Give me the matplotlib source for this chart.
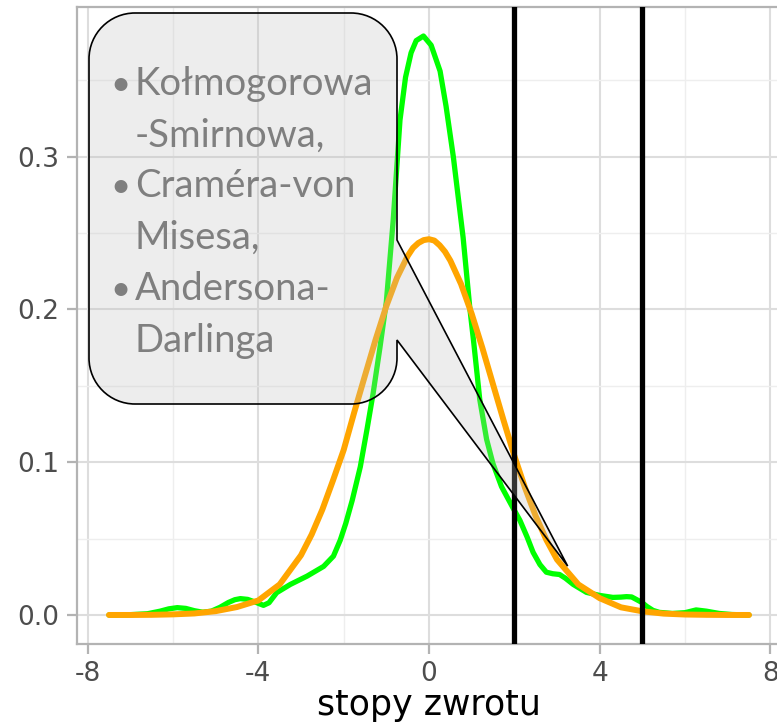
import matplotlib
matplotlib.use("Agg")
import matplotlib.pyplot as plt
from matplotlib.path import Path
from matplotlib.patches import PathPatch
from matplotlib.transforms import IdentityTransform

# ---------------- data ----------------
green_x = [-7.5, -7.0, -6.6, -6.3, -6.1, -5.9, -5.7, -5.5, -5.3, -5.1, -4.9, -4.7,
           -4.55, -4.42, -4.25, -4.05, -3.88, -3.75, -3.57, -3.25, -2.86, -2.47,
           -2.24, -2.08, -1.95, -1.8, -1.61, -1.45, -1.31, -1.15, -1.0, -0.84,
           -0.68, -0.55, -0.42, -0.3, -0.13, 0.05, 0.26, 0.4, 0.57, 0.8, 0.96,
           1.05, 1.19, 1.35, 1.5, 1.7, 1.97, 2.13, 2.3, 2.44, 2.6, 2.75, 2.9,
           3.06, 3.2, 3.38, 3.69, 4.0, 4.31, 4.5, 4.63, 4.75, 4.87, 5.0, 5.1,
           5.25, 5.4, 5.7, 6.0, 6.26, 6.5, 6.8, 7.1, 7.5]
green_y = [0.0, 0.0002, 0.0008, 0.0025, 0.0040, 0.0048, 0.0043, 0.0028, 0.0018,
           0.0025, 0.0050, 0.0082, 0.0100, 0.0107, 0.0102, 0.0082, 0.0063, 0.0080,
           0.0146, 0.0200, 0.0254, 0.0318, 0.0385, 0.049, 0.060, 0.075, 0.097,
           0.122, 0.145, 0.175, 0.205, 0.258, 0.324, 0.352, 0.368, 0.376, 0.379,
           0.373, 0.356, 0.333, 0.300, 0.247, 0.200, 0.178, 0.141, 0.115, 0.099,
           0.084, 0.070, 0.062, 0.051, 0.041, 0.033, 0.028, 0.027, 0.0265, 0.024,
           0.020, 0.0148, 0.0128, 0.0115, 0.0117, 0.0120, 0.0118, 0.0100, 0.0080,
           0.0057, 0.0030, 0.0017, 0.0010, 0.0015, 0.0033, 0.0025, 0.0010, 0.0003,
           0.0]

orange_x = [-7.5, -7.0, -6.5, -6.0, -5.5, -5.0, -4.5, -4.0, -3.5, -3.0, -2.75,
            -2.5, -2.25, -2.0, -1.75, -1.5, -1.25, -1.0, -0.75, -0.5, -0.375,
            -0.25, -0.125, 0.0, 0.125, 0.25, 0.375, 0.5, 0.75, 1.0, 1.25, 1.5,
            1.75, 2.0, 2.25, 2.5, 2.75, 3.0, 3.5, 4.0, 4.5, 5.0, 5.5, 6.0, 6.5,
            7.0, 7.5]
orange_y = [0.0, 0.0, 0.0001, 0.0004, 0.0010, 0.0025, 0.0052, 0.0095, 0.0200,
            0.0391, 0.0527, 0.0690, 0.0881, 0.1080, 0.1329, 0.1568, 0.1804,
            0.2022, 0.2208, 0.2350, 0.2403, 0.2435, 0.2454, 0.2460, 0.2451,
            0.2420, 0.2378, 0.2320, 0.2167, 0.1972, 0.1749, 0.1510, 0.1272,
            0.1042, 0.0833, 0.0648, 0.0492, 0.0363, 0.0200, 0.0110, 0.0050,
            0.0024, 0.0009, 0.0003, 0.0001, 0.0, 0.0]

vlines_x = [2, 5]

x_ticks = [-8, -4, 0, 4, 8]
x_tick_labels = ["-8", "-4", "0", "4", "8"]
y_ticks = [0.0, 0.1, 0.2, 0.3]
y_tick_labels = ["0.0", "0.1", "0.2", "0.3"]
x_minor = [-6, -2, 2, 6]
y_minor = [0.05, 0.15, 0.25, 0.35]

x_label = "stopy zwrotu"
callout_lines = [("•", "Kołmogorowa"), ("", "-Smirnowa,"), ("•", "Craméra-von"),
                 ("", "Misesa,"), ("•", "Andersona-"), ("", "Darlinga")]

# ---------------- figure ----------------
W, H = 777, 723
fig = plt.figure(figsize=(W / 100, H / 100), dpi=100, facecolor="white")
ax = fig.add_axes([77 / W, 1 - 644 / H, (781 - 77) / W, (644 - 7) / H])
ax.set_facecolor("white")
ax.set_xlim(-8.25, 8.25)
ax.set_ylim(-0.019, 0.398)

ax.set_xticks(x_ticks)
ax.set_xticklabels(x_tick_labels)
ax.set_yticks(y_ticks)
ax.set_yticklabels(y_tick_labels)
ax.set_xticks(x_minor, minor=True)
ax.set_yticks(y_minor, minor=True)

ax.grid(which="major", color="#DDDDDD", linewidth=1.5)
ax.grid(which="minor", color="#EEEEEE", linewidth=1.0)
ax.set_axisbelow(True)

for s in ["left", "bottom", "top"]:
    ax.spines[s].set_color("#B3B3B3")
    ax.spines[s].set_linewidth(1.6)
ax.spines["right"].set_visible(False)

ax.tick_params(which="major", length=7, width=1.6, color="#B3B3B3",
               labelsize=19, labelcolor="#4D4D4D", pad=6)
ax.tick_params(axis="x", which="major", pad=5)
ax.tick_params(which="minor", length=0)
for lab in ax.get_xticklabels() + ax.get_yticklabels():
    lab.set_family("DejaVu Sans")

ax.set_xlabel(x_label, fontsize=25, color="black", labelpad=1, family="DejaVu Sans")

# curves
ax.plot(green_x, green_y, color="#00FF00", linewidth=3.8, solid_capstyle="round",
        solid_joinstyle="round", zorder=3)
ax.plot(orange_x, orange_y, color="#FFA500", linewidth=4.3, solid_capstyle="round",
        solid_joinstyle="round", zorder=4)
for xv in vlines_x:
    ax.axvline(xv, color="black", linewidth=3.8, zorder=5)

# ---------------- callout (pixel geometry, y from top) ----------------
fig.canvas.draw()
tip_disp = ax.transData.transform((3.25, 0.032))
L, R, T, B, r = 89, 397, 13, 404, 46
k = 0.5523 * r


def P(x, y):
    return (x, H - y)


verts = [P(L + r, T), P(R - r, T),
         P(R - r + k, T), P(R, T + r - k), P(R, T + r),
         P(R, 240), (tip_disp[0], tip_disp[1]), P(R, 340),
         P(R, B - r),
         P(R, B - r + k), P(R - r + k, B), P(R - r, B),
         P(L + r, B),
         P(L + r - k, B), P(L, B - r + k), P(L, B - r),
         P(L, T + r),
         P(L, T + r - k), P(L + r - k, T), P(L + r, T),
         P(L + r, T)]
codes = [Path.MOVETO, Path.LINETO,
         Path.CURVE4, Path.CURVE4, Path.CURVE4,
         Path.LINETO, Path.LINETO, Path.LINETO,
         Path.LINETO,
         Path.CURVE4, Path.CURVE4, Path.CURVE4,
         Path.LINETO,
         Path.CURVE4, Path.CURVE4, Path.CURVE4,
         Path.LINETO,
         Path.CURVE4, Path.CURVE4, Path.CURVE4,
         Path.CLOSEPOLY]
patch = PathPatch(Path(verts, codes), facecolor=(0.75, 0.75, 0.75, 0.27),
                  edgecolor="black", linewidth=1.2, transform=IdentityTransform(),
                  zorder=10)
fig.add_artist(patch)

baselines = [95, 147, 197, 249, 300, 352]
for (bullet, txt), yb in zip(callout_lines, baselines):
    if bullet:
        fig.text(110 / W, 1 - yb / H, bullet, fontsize=25, color="#7F7F7F",
                 family=["Lato", "DejaVu Sans"], va="baseline", ha="left", zorder=11)
    fig.text(135 / W, 1 - yb / H, txt, fontsize=27.5, color="#7F7F7F",
             family=["Lato", "DejaVu Sans"], va="baseline", ha="left", zorder=11)

fig.savefig("out.png", dpi=100, facecolor="white")
